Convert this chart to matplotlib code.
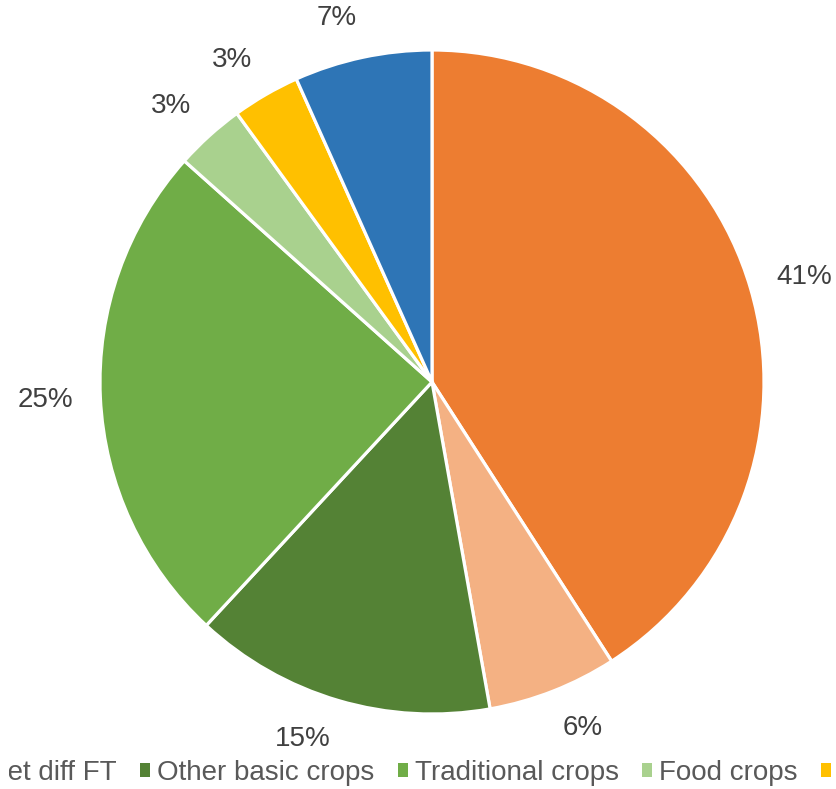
import matplotlib
matplotlib.use("Agg")
import numpy as np
import matplotlib.pyplot as plt
from matplotlib.transforms import Bbox, IdentityTransform

labels = ["Coffee FT price", "Coffee market diff FT", "Other basic crops",
          "Traditional crops", "Food crops", "Livestock", "Off-farm income"]
values = [40.9, 6.3, 14.7, 24.7, 3.4, 3.3, 6.7]
colors = ["#ED7D31", "#F4B183", "#548235", "#70AD47", "#A9D18E", "#FFC000", "#2E75B6"]

plt.rcParams['font.family'] = ['Liberation Sans', 'DejaVu Sans']

W, H = 836, 789
fig = plt.figure(figsize=(W / 100, H / 100), dpi=100)
cx, cy, R = 432, 382, 332
ax = fig.add_axes([(cx - R) / W, (H - cy - R) / H, 2 * R / W, 2 * R / H])
wedges, texts, autotexts = ax.pie(
    values, colors=colors, startangle=90, counterclock=False,
    autopct='%1.0f%%', pctdistance=1.15, radius=1,
    wedgeprops=dict(edgecolor='white', linewidth=2.3),
    textprops=dict(color='#404040', fontsize=20))
ax.set_xlim(-1, 1)
ax.set_ylim(-1, 1)
ax.set_aspect('equal')
ax.axis('off')

leg = fig.legend(wedges, labels, loc='center left', bbox_to_anchor=(0, 16 / H),
                 ncol=len(labels), frameon=False, fontsize=20,
                 handlelength=0.36, handleheight=0.36, handletextpad=0.25,
                 columnspacing=0.85, labelcolor='#595959')
for h in leg.legend_handles:
    h.set_edgecolor('none')
fig.canvas.draw()
renderer = fig.canvas.get_renderer()
bb = leg.get_texts()[2].get_window_extent(renderer)
shift = 157 - bb.x0
leg.set_bbox_to_anchor((shift / W, 16 / H), transform=fig.transFigure)
clip = Bbox.from_extents(9, 0, W, H)
for t in leg.get_texts():
    t.set_clip_box(clip)
    t.set_clip_on(True)

# Excel-like outside-end label placement (pixel coordinates)
gap = 27
pc = np.array([cx, H - cy], dtype=float)
for w, at in zip(wedges, autotexts):
    ext = at.get_window_extent(renderer)
    hw, hh = ext.width / 2, ext.height / 2
    phi = np.deg2rad((w.theta1 + w.theta2) / 2)
    d = np.array([np.cos(phi), np.sin(phi)])
    pos = pc + (R + gap) * d + np.array([hw * np.sign(d[0]), hh * d[1]])
    at.set_transform(IdentityTransform())
    at.set_position((pos[0], pos[1]))
    at.set_ha('center')
    at.set_va('center')

fig.savefig("out.png", dpi=100)
